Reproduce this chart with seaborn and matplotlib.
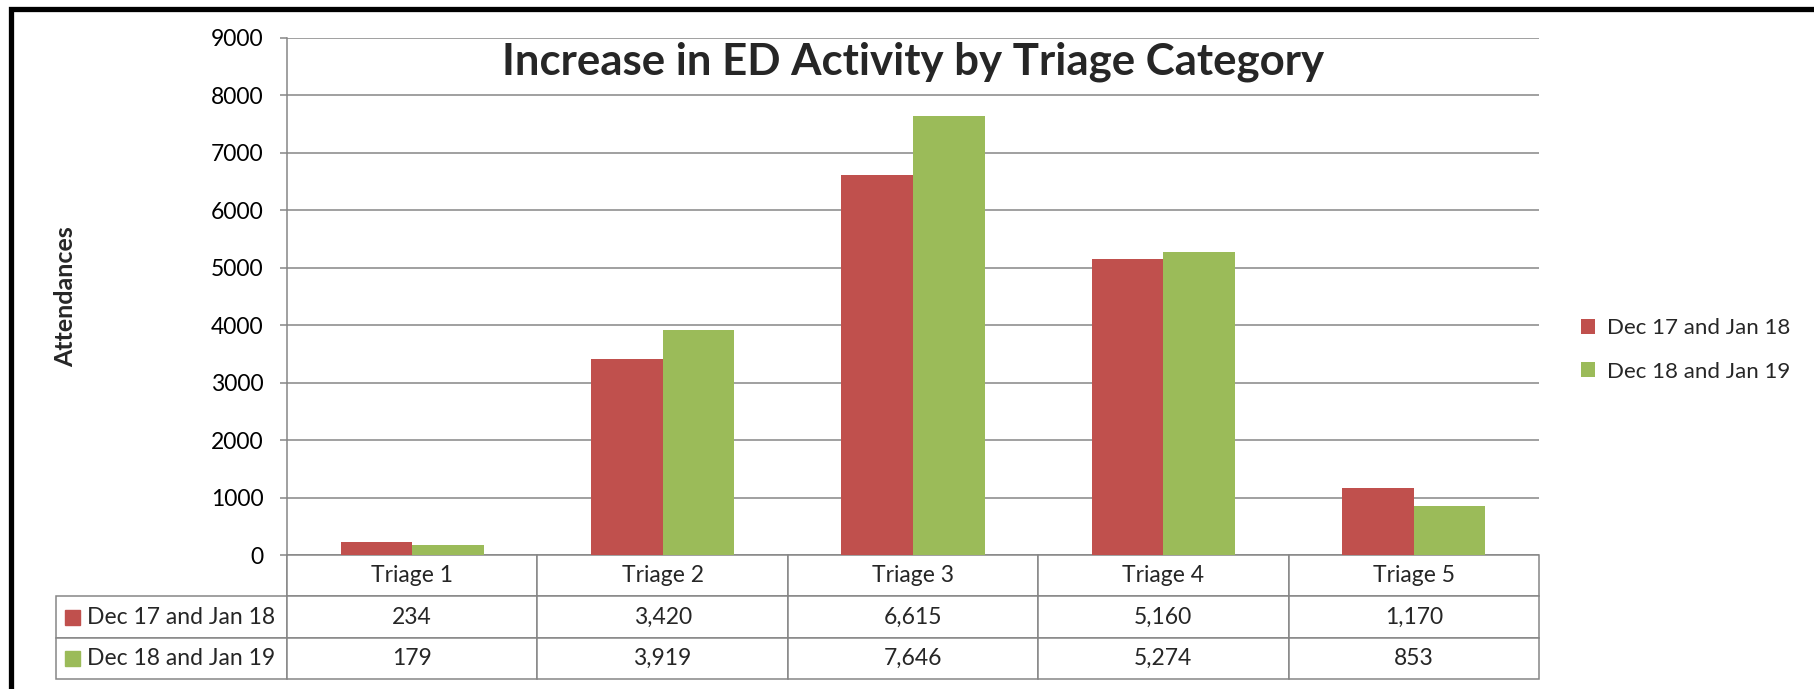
import numpy as np
import pandas as pd
import seaborn as sns
import matplotlib.pyplot as plt
from matplotlib.patches import Rectangle

categories = ['Triage 1', 'Triage 2', 'Triage 3', 'Triage 4', 'Triage 5']
periods = ['Dec 17 and Jan 18', 'Dec 18 and Jan 19']
dec17_jan18 = [234, 3420, 6615, 5160, 1170]
dec18_jan19 = [179, 3919, 7646, 5274, 853]
yticks = [0, 1000, 2000, 3000, 4000, 5000, 6000, 7000, 8000, 9000]

colors = ['#C0504D', '#9BBB59']
grid_c = '#868686'

df = pd.DataFrame({
    'category': categories * 2,
    'attendances': dec17_jan18 + dec18_jan19,
    'period': [periods[0]] * 5 + [periods[1]] * 5,
})

sns.set_style('white')
plt.rcParams['font.family'] = ['Lato', 'DejaVu Sans']

fig = plt.figure(figsize=(18.14, 6.89), dpi=100)
ax = fig.add_axes([287 / 1814, 1 - 555 / 689, 1252 / 1814, 517 / 689])

sns.barplot(data=df, x='category', y='attendances', hue='period',
            palette=colors, width=0.572, saturation=1, linewidth=0, ax=ax)

ax.set_ylim(0, 9000)
ax.set_yticks(yticks)
ax.set_xlim(-0.5, 4.5)
ax.grid(axis='y', color=grid_c, lw=1.1)
ax.set_axisbelow(True)
for s in ['top', 'right', 'bottom']:
    ax.spines[s].set_visible(False)
ax.spines['left'].set_color(grid_c)
ax.spines['left'].set_linewidth(1.1)
ax.tick_params(axis='y', left=True, length=5, width=1.1, color=grid_c,
               pad=12, labelsize=16.5, labelcolor='black')
ax.tick_params(axis='x', bottom=False, labelbottom=False)
ax.set_xlabel('')
ax.set_ylabel('Attendances', fontsize=18, fontweight='bold')
ax.yaxis.set_label_coords(-0.1675, 0.5)

ax.text(0.5, 0.955, 'Increase in ED Activity by Triage Category',
        transform=ax.transAxes, ha='center', va='center',
        fontsize=31.5, fontweight='bold')

# data table under the axis
tx0 = (56 - 287) / 1252
tw = 1 - tx0
th = (679 - 555) / 517
first_w = 231 / 1483
col_w = [first_w] + [(1 - first_w) / 5] * 5
cell_text = [[''] + categories,
             [periods[0]] + [f'{v:,}' for v in dec17_jan18],
             [periods[1]] + [f'{v:,}' for v in dec18_jan19]]
tbl = ax.table(cellText=cell_text, colWidths=col_w, cellLoc='center',
               bbox=[tx0, -th, tw, th])
tbl.auto_set_font_size(False)
tbl.set_fontsize(16.5)
for (r, c), cell in tbl.get_celld().items():
    cell.set_edgecolor(grid_c)
    cell.set_linewidth(1.1)
    if r == 0 and c == 0:
        cell.visible_edges = 'R'
    if c == 0 and r > 0:
        cell.PAD = 31 / 231
        cell._loc = 'left'
        cell.get_text().set_ha('left')
        # colour key square
        sq_w = 15 / 1252
        sq_h = 15 / 517
        yc = -th * (r + 0.5) / 3
        ax.add_patch(Rectangle((tx0 + 9 / 1252, yc - sq_h / 2), sq_w, sq_h,
                               transform=ax.transAxes, clip_on=False,
                               color=colors[r - 1], zorder=5))

sns.move_legend(ax, 'center left', bbox_to_anchor=(1561 / 1814, 1 - 350 / 689),
                bbox_transform=fig.transFigure, frameon=False, title=None,
                fontsize=16, handlelength=0.65, handleheight=0.65,
                handletextpad=0.5, labelspacing=1.05)

# outer chart frame
fig.patches.append(Rectangle((10.5 / 1814, -0.05), 1.1, 1 - 8.5 / 689 + 0.05,
                             transform=fig.transFigure, fill=False,
                             edgecolor='black', lw=3.8, zorder=10))

fig.savefig('out.png', dpi=100)
